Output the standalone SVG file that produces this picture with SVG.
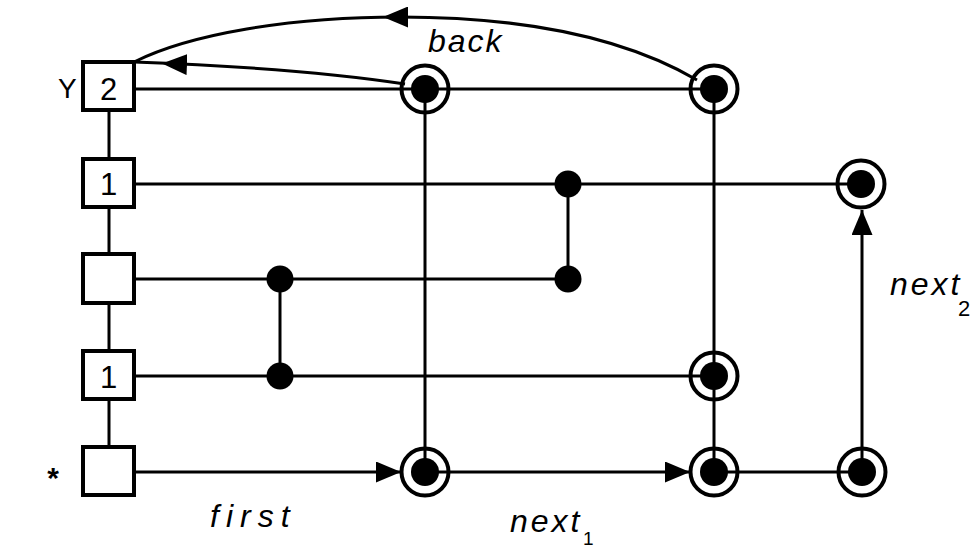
<svg xmlns="http://www.w3.org/2000/svg" width="977" height="549" viewBox="0 0 977 549">
<style>
.bg{fill:#fff}
.box{fill:#fff;stroke:#000;stroke-width:4}
.ln{fill:none;stroke:#000;stroke-width:3}
.ring{fill:none;stroke:#000;stroke-width:4}
.dot{fill:#000}
.t{font-family:"Liberation Sans",Arial,sans-serif;fill:#000}
.it{font-family:"Liberation Sans",Arial,sans-serif;font-style:italic;fill:#000}
</style>
<defs>
<marker id="ah" viewBox="0 0 25 21" refX="25" refY="10.5" markerWidth="25" markerHeight="21" markerUnits="userSpaceOnUse" orient="auto">
<path d="M0 0 L25 10.5 L0 21 Z" fill="#000"/>
</marker>
</defs>
<rect class="bg" x="0" y="0" width="977" height="549"/>
<g id="connectors">
<line class="ln" x1="109" y1="110" x2="109" y2="447"/>
<line class="ln" x1="134" y1="89" x2="714" y2="89"/>
<line class="ln" x1="134" y1="184" x2="861" y2="184"/>
<line class="ln" x1="134" y1="279" x2="568" y2="279"/>
<line class="ln" x1="134" y1="376" x2="714" y2="376"/>
<line class="ln" x1="134" y1="472" x2="401" y2="472" marker-end="url(#ah)"/>
<line class="ln" x1="425" y1="472" x2="690" y2="472" marker-end="url(#ah)"/>
<line class="ln" x1="714" y1="472" x2="862" y2="472"/>
<line class="ln" x1="425" y1="89" x2="425" y2="472"/>
<line class="ln" x1="714" y1="89" x2="714" y2="472"/>
<line class="ln" x1="862" y1="472" x2="862" y2="210" marker-end="url(#ah)"/>
<line class="ln" x1="280" y1="279" x2="280" y2="376"/>
<line class="ln" x1="568" y1="184" x2="568" y2="279"/>
<path class="ln" d="M405 84 Q300 68 134 62"/>
<path d="M185 64.5 L162 63.5" fill="none" stroke="none" marker-end="url(#ah)"/>
<path class="ln" d="M697 80 C620 35 520 17 400 17 C290 17 190 34 134 62"/>
<path d="M405 17 L383 17" fill="none" stroke="none" marker-end="url(#ah)"/>
</g>
<g id="box-top"><rect class="box" x="83" y="62" width="51" height="48"/><text class="t" x="108.5" y="100" font-size="31" text-anchor="middle">2</text></g>
<g id="box-2"><rect class="box" x="83" y="159" width="51" height="48"/><text class="t" x="108.5" y="195" font-size="31" text-anchor="middle">1</text></g>
<g id="box-3"><rect class="box" x="83" y="254" width="51" height="49"/></g>
<g id="box-4"><rect class="box" x="83" y="351" width="51" height="48"/><text class="t" x="108.5" y="388" font-size="31" text-anchor="middle">1</text></g>
<g id="box-5"><rect class="box" x="83" y="447" width="51" height="48"/></g>
<g id="c-a1"><circle class="ring" cx="425" cy="89" r="23.5"/><circle class="dot" cx="425" cy="89" r="14"/></g>
<g id="c-b1"><circle class="ring" cx="714" cy="89" r="23.5"/><circle class="dot" cx="714" cy="89" r="14"/></g>
<g id="c-c2"><circle class="ring" cx="861" cy="184" r="23.5"/><circle class="dot" cx="861" cy="184" r="14"/></g>
<g id="c-b4"><circle class="ring" cx="714" cy="376" r="23.5"/><circle class="dot" cx="714" cy="376" r="14"/></g>
<g id="c-a5"><circle class="ring" cx="425" cy="472" r="23.5"/><circle class="dot" cx="425" cy="472" r="14"/></g>
<g id="c-b5"><circle class="ring" cx="714" cy="472" r="23.5"/><circle class="dot" cx="714" cy="472" r="14"/></g>
<g id="c-c5"><circle class="ring" cx="862" cy="472" r="23.5"/><circle class="dot" cx="862" cy="472" r="14"/></g>
<g id="j-1"><circle class="dot" cx="280" cy="279" r="13.5"/></g>
<g id="j-2"><circle class="dot" cx="280" cy="376" r="13.5"/></g>
<g id="j-3"><circle class="dot" cx="568" cy="184" r="13.5"/></g>
<g id="j-4"><circle class="dot" cx="568" cy="279" r="13.5"/></g>
<g id="labels">
<text class="t" x="58" y="98" font-size="28">Y</text>
<text class="t" x="53" y="488" font-size="30" font-weight="bold" text-anchor="middle">*</text>
<text class="it" x="428" y="52" font-size="32" letter-spacing="2">back</text>
<text class="it" x="210" y="527" font-size="32" letter-spacing="7">first</text>
<text class="it" x="510" y="532" font-size="32" letter-spacing="3">next</text>
<text class="t" x="583" y="545" font-size="19">1</text>
<text class="it" x="890" y="295" font-size="32" letter-spacing="3">next</text>
<text class="t" x="958" y="316" font-size="22">2</text>
</g>
</svg>
